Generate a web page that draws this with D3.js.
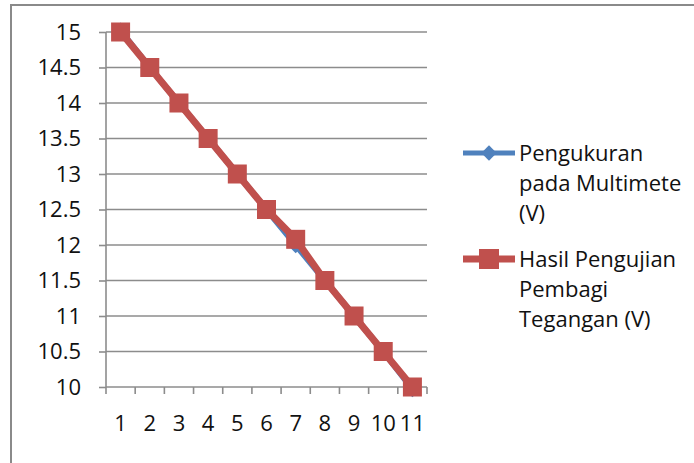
<!DOCTYPE html>
<html><head><meta charset="utf-8">
<script src="https://cdn.jsdelivr.net/npm/d3@7"></script>
<style>
html,body{margin:0;padding:0;background:#fff;}
svg{display:block;}
text{font-family:"Open Sans",sans-serif;fill:#111;}
</style></head>
<body>
<svg id="c" width="694" height="463"></svg>
<script>
const categories = ["1","2","3","4","5","6","7","8","9","10","11"];
const multimeter = [15.02,14.5,14,13.5,13,12.5,12.0,11.5,11,10.5,9.97];
const pembagi = [15,14.5,14,13.5,13,12.5,12.08,11.5,11,10.5,10];
const yTicks = [10,10.5,11,11.5,12,12.5,13,13.5,14,14.5,15];
const seriesNames = [["Pengukuran","pada Multimete","(V)"],["Hasil Pengujian","Pembagi","Tegangan (V)"]];
const colors = ["#4F81BD","#C0504D"];
const FONT = "'Open Sans',sans-serif";

const svg = d3.select("#c");
svg.append("rect").attr("x",11).attr("y",5).attr("width",700).attr("height",470)
  .attr("fill","#fff").attr("stroke","#8a8a8a").attr("stroke-width",2);

const x = d3.scaleBand().domain(categories).range([106,427]).padding(0);
const y = d3.scaleLinear().domain([10,15]).range([387,32]);

svg.append("g").selectAll("line").data(yTicks.filter(t=>t>10)).join("line")
  .attr("x1",106).attr("x2",427).attr("y1",d=>y(d)).attr("y2",d=>y(d))
  .attr("stroke","#8c8c8c").attr("stroke-width",1.6);

const yAxis = d3.axisLeft(y).tickValues(yTicks).tickFormat(d=>String(d)).tickSize(7).tickPadding(18);
const gy = svg.append("g").attr("transform","translate(106,0)").call(yAxis);
gy.select(".domain").attr("stroke","#8c8c8c").attr("stroke-width",1.6).attr("d","M0,"+y(15)+"V"+y(10));
gy.selectAll(".tick line").attr("stroke","#8c8c8c").attr("stroke-width",1.6);
gy.selectAll(".tick text").attr("font-size",22).attr("fill","#111").style("font-family",FONT);

const xAxis = d3.axisBottom(x).tickSize(0).tickPadding(28);
const gx = svg.append("g").attr("transform","translate(0,387)").call(xAxis);
gx.select(".domain").attr("stroke","#8c8c8c").attr("stroke-width",1.6).attr("d","M106,0H427");
gx.selectAll(".tick text").attr("font-size",22).attr("fill","#111").style("font-family",FONT);
const bounds = categories.map(c=>x(c)).concat([x.range()[1]]);
svg.append("g").selectAll("line").data(bounds).join("line")
  .attr("x1",d=>d).attr("x2",d=>d).attr("y1",387).attr("y2",394)
  .attr("stroke","#8c8c8c").attr("stroke-width",1.6);

const cx = d=>x(d)+x.bandwidth()/2;
const line = d3.line().x((d,i)=>cx(categories[i])).y(d=>y(d));

svg.append("path").datum(multimeter).attr("d",line).attr("fill","none")
  .attr("stroke",colors[0]).attr("stroke-width",6).attr("stroke-linejoin","round");
svg.append("g").selectAll("path").data(multimeter).join("path")
  .attr("transform",(d,i)=>`translate(${cx(categories[i])},${y(d)})`)
  .attr("d",d3.symbol(d3.symbolDiamond2,170)).attr("fill",colors[0]);

svg.append("path").datum(pembagi).attr("d",line).attr("fill","none")
  .attr("stroke",colors[1]).attr("stroke-width",7).attr("stroke-linejoin","round");
svg.append("g").selectAll("rect").data(pembagi).join("rect")
  .attr("x",(d,i)=>cx(categories[i])-9.5).attr("y",d=>y(d)-9.5)
  .attr("width",19).attr("height",19).attr("fill",colors[1]);

const leg = svg.append("g");
const legY = [153,259];
seriesNames.forEach((lines,k)=>{
  leg.append("line").attr("x1",463).attr("x2",515).attr("y1",legY[k]).attr("y2",legY[k])
    .attr("stroke",colors[k]).attr("stroke-width",k?7:5);
  if(k===0){
    leg.append("path").attr("transform",`translate(489,${legY[k]})`)
      .attr("d",d3.symbol(d3.symbolDiamond2,150)).attr("fill",colors[k]);
  } else {
    leg.append("rect").attr("x",489-10).attr("y",legY[k]-10).attr("width",20).attr("height",20).attr("fill",colors[k]);
  }
  lines.forEach((t,j)=>{
    leg.append("text").attr("x",519).attr("y",legY[k]+8+j*30).attr("font-size",22).style("font-family",FONT).text(t);
  });
});
</script>
</body></html>
